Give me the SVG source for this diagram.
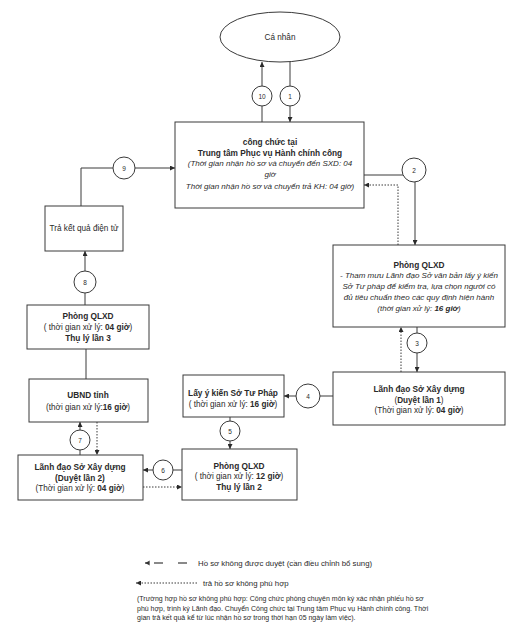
<svg xmlns="http://www.w3.org/2000/svg" width="521" height="636" viewBox="0 0 521 636">
<defs>
<style>
.box{fill:#fff;stroke:#3a3a3a;stroke-width:1}
.ln{fill:none;stroke:#3a3a3a;stroke-width:1}
.dot{fill:none;stroke:#3a3a3a;stroke-width:1;stroke-dasharray:1.5,1.5}
.dash{fill:none;stroke:#3a3a3a;stroke-width:1.2}
.cir{fill:#fff;stroke:#3a3a3a;stroke-width:1}
text{font-family:"Liberation Sans",Arial,sans-serif;fill:#2a2a2a;text-anchor:middle}
.t{font-size:8.2px}
.b{font-size:8.3px;font-weight:bold}
.i{font-size:8px;font-style:italic}
.n{font-size:6.5px}
.lg{font-size:7.8px;text-anchor:start}
.lp{font-size:7px;text-anchor:start}
</style>
<marker id="ar" viewBox="0 0 6 6" refX="6" refY="3" markerWidth="5" markerHeight="5" orient="auto-start-reverse" markerUnits="userSpaceOnUse">
<path d="M0,0 L6,3 L0,6 z" fill="#2a2a2a"/>
</marker>
</defs>
<rect width="521" height="636" fill="#fff"/>

<g id="connectors">
<line class="ln" x1="262" y1="122" x2="262" y2="62" marker-end="url(#ar)"/>
<line class="ln" x1="290" y1="62" x2="290" y2="122" marker-end="url(#ar)"/>
<polyline class="ln" points="364,175 415,175 415,245" marker-end="url(#ar)"/>
<polyline class="dot" points="398,245 398,185 364,185" marker-end="url(#ar)"/>
<line class="ln" x1="417" y1="327" x2="417" y2="372" marker-end="url(#ar)"/>
<line class="dot" x1="401" y1="372" x2="401" y2="327" marker-end="url(#ar)"/>
<line class="ln" x1="333" y1="396" x2="284" y2="396" marker-end="url(#ar)"/>
<line class="ln" x1="230" y1="417" x2="230" y2="449" marker-end="url(#ar)"/>
<line class="ln" x1="182" y1="470" x2="143" y2="470" marker-end="url(#ar)"/>
<line class="dot" x1="143" y1="487" x2="182" y2="487" marker-end="url(#ar)"/>
<line class="ln" x1="80" y1="455" x2="80" y2="422" marker-end="url(#ar)"/>
<line class="dot" x1="97" y1="422" x2="97" y2="455" marker-end="url(#ar)"/>
<line class="ln" x1="86" y1="349" x2="86" y2="379"/>
<line class="ln" x1="85" y1="305" x2="85" y2="251" marker-end="url(#ar)"/>
<polyline class="ln" points="81,206 81,168 175,168" marker-end="url(#ar)"/>
</g>

<g id="circles">
<circle class="cir" cx="262" cy="96" r="10"/><text class="n" x="262" y="98.5">10</text>
<circle class="cir" cx="290" cy="96" r="10"/><text class="n" x="290" y="98.5">1</text>
<circle class="cir" cx="414" cy="170" r="12"/><text class="n" x="414" y="172.5">2</text>
<circle class="cir" cx="417" cy="343" r="10"/><text class="n" x="417" y="345.5">3</text>
<circle class="cir" cx="308" cy="396" r="12"/><text class="n" x="308" y="398.5">4</text>
<circle class="cir" cx="230" cy="431" r="10"/><text class="n" x="230" y="433.5">5</text>
<circle class="cir" cx="163" cy="470" r="10"/><text class="n" x="163" y="472.5">6</text>
<circle class="cir" cx="80" cy="440" r="10"/><text class="n" x="80" y="442.5">7</text>
<circle class="cir" cx="85" cy="282" r="11"/><text class="n" x="85" y="284.5">8</text>
<circle class="cir" cx="124" cy="168" r="11"/><text class="n" x="124" y="170.5">9</text>
</g>

<g id="ca-nhan">
<ellipse class="box" cx="280" cy="37" rx="60" ry="25"/>
<text class="t" x="280" y="40">Cá nhân</text>
</g>

<g id="trung-tam">
<rect class="box" x="175" y="122" width="189" height="86"/>
<text class="b" x="270" y="145">công chức tại</text>
<text class="b" x="270" y="155.5">Trung tâm Phục vụ Hành chính công</text>
<text class="i" x="270" y="166">(Thời gian nhận hồ sơ và chuyển đến SXD: 04</text>
<text class="i" x="270" y="176.5">giờ</text>
<text class="i" x="270" y="189">Thời gian nhận hồ sơ và chuyển trả KH: 04 giờ)</text>
</g>

<g id="phong-qlxd-1">
<rect class="box" x="333" y="245" width="172" height="82"/>
<text class="b" x="419" y="268">Phòng QLXD</text>
<text class="i" x="419" y="277.5">- Tham mưu Lãnh đạo Sở văn bản lấy ý kiến</text>
<text class="i" x="419" y="288.5">Sở Tư pháp để kiểm tra, lựa chọn người có</text>
<text class="i" x="419" y="299.5">đủ tiêu chuẩn theo các quy định hiện hành</text>
<text class="i" x="419" y="310.5">(thời gian xử lý: <tspan font-weight="bold">16 giờ</tspan>)</text>
</g>

<g id="lanh-dao-1">
<rect class="box" x="333" y="372" width="172" height="53"/>
<text class="b" x="419" y="392">Lãnh đạo Sở Xây dựng</text>
<text class="t" x="419" y="402.5">(<tspan font-weight="bold">Duyệt lần 1</tspan>)</text>
<text class="t" x="419" y="413">(Thời gian xử lý: <tspan font-weight="bold">04 giờ</tspan>)</text>
</g>

<g id="lay-y-kien">
<rect class="box" x="183" y="375" width="101" height="42"/>
<text class="b" x="233" y="395.5">Lấy ý kiến Sở Tư Pháp</text>
<text class="t" x="233" y="406.5">( thời gian xử lý: <tspan font-weight="bold">16 giờ</tspan>)</text>
</g>

<g id="phong-qlxd-2">
<rect class="box" x="182" y="449" width="115" height="51"/>
<text class="b" x="239" y="468.5">Phòng QLXD</text>
<text class="t" x="239" y="479">( thời gian xử lý: <tspan font-weight="bold">12 giờ</tspan>)</text>
<text class="b" x="239" y="490">Thụ lý lần 2</text>
</g>

<g id="lanh-dao-2">
<rect class="box" x="18" y="455" width="125" height="45"/>
<text class="b" x="80" y="470">Lãnh đạo Sở Xây dựng</text>
<text class="b" x="80" y="480.5">(Duyệt lần 2)</text>
<text class="t" x="80" y="491">(Thời gian xử lý: <tspan font-weight="bold">04 giờ</tspan>)</text>
</g>

<g id="ubnd">
<rect class="box" x="29" y="379" width="119" height="43"/>
<text class="b" x="88" y="397.5">UBND tỉnh</text>
<text class="t" x="88" y="409.5">(thời gian xử lý:<tspan font-weight="bold">16 giờ</tspan>)</text>
</g>

<g id="phong-qlxd-3">
<rect class="box" x="27" y="305" width="122" height="44"/>
<text class="b" x="88" y="318.5">Phòng QLXD</text>
<text class="t" x="88" y="329.5">( thời gian xử lý: <tspan font-weight="bold">04 giờ</tspan>)</text>
<text class="b" x="88" y="340.5">Thụ lý lần 3</text>
</g>

<g id="tra-ket-qua">
<rect class="box" x="45" y="206" width="78" height="45"/>
<text class="t" x="84" y="231">Trả kết quả điện tử</text>
</g>

<g id="legend">
<path d="M145,563 L150,560.5 L149,563 L150,565.5 z" fill="#2a2a2a"/>
<line class="dash" x1="145" y1="563" x2="150" y2="563"/>
<line class="dash" x1="154" y1="563" x2="163" y2="563"/>
<line class="dash" x1="178" y1="563" x2="187" y2="563"/>
<text class="lg" x="198" y="566">Hồ sơ không được duyệt (cần điều chỉnh bổ sung)</text>
<line class="dot" x1="197" y1="583" x2="136" y2="583" marker-end="url(#ar)"/>
<text class="lg" x="203" y="586">trả hồ sơ không phù hợp</text>
<text class="lp" x="137" y="601">(Trường hợp hồ sơ không phù hợp: Công chức phòng chuyên môn ký xác nhận phiếu hồ sơ</text>
<text class="lp" x="137" y="610.5">phù hợp, trình ký Lãnh đạo. Chuyển Công chức tại Trung tâm Phục vụ Hành chính công. Thời</text>
<text class="lp" x="137" y="620">gian trả kết quả kể từ lúc nhận hồ sơ trong thời hạn 05 ngày làm việc).</text>
</g>
</svg>
